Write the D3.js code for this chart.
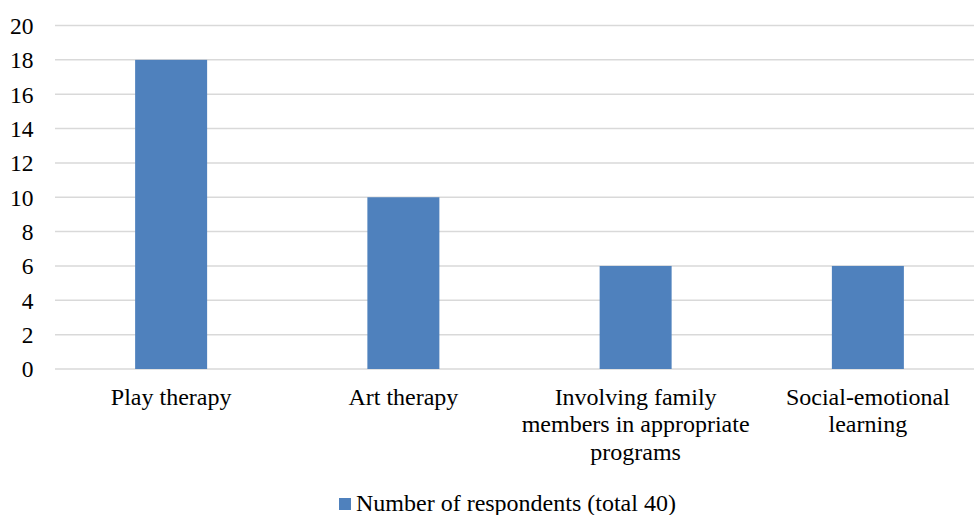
<!DOCTYPE html>
<html><head><meta charset="utf-8">
<script src="https://cdn.jsdelivr.net/npm/d3@7"></script>
<style>body{margin:0;background:#fff}svg{display:block}</style>
</head><body>
<script>
const categories = [["Play therapy"],["Art therapy"],["Involving family","members in appropriate","programs"],["Social-emotional","learning"]];
const values = [18, 10, 6, 6];
const yTicks = [0,2,4,6,8,10,12,14,16,18,20];
const seriesName = "Number of respondents (total 40)";

const W = 974, H = 515;
const svg = d3.select("body").append("svg").attr("width", W).attr("height", H);
const mLeft = 55, mRight = 984, mTop = 25.5, mBottom = 369;
const x = d3.scaleBand().domain(d3.range(categories.length)).range([mLeft, mRight]).paddingInner(0.69).paddingOuter(0.345);
const y = d3.scaleLinear().domain([0, 20]).range([mBottom, mTop]);
const font = "'Liberation Serif','Times New Roman',serif";

svg.append("g").selectAll("line").data(yTicks).join("line")
  .attr("x1", mLeft).attr("x2", mRight).attr("y1", d => y(d)).attr("y2", d => y(d))
  .attr("stroke", "#d9d9d9").attr("stroke-width", 1.5);

svg.append("g").selectAll("text").data(yTicks).join("text")
  .attr("x", 33.5).attr("y", d => y(d) + 8.3).attr("text-anchor", "end")
  .attr("font-family", font).attr("font-size", 23.5).attr("fill", "#000").text(d => d);

const bw = 72;
svg.append("g").selectAll("rect").data(values).join("rect")
  .attr("x", (d, i) => x(i) + x.bandwidth() / 2 - bw / 2).attr("width", bw)
  .attr("y", d => y(d)).attr("height", d => y(0) - y(d)).attr("fill", "#4f81bd");

const lbl = svg.append("g").selectAll("text").data(categories).join("text")
  .attr("text-anchor", "middle").attr("font-family", font).attr("font-size", 24).attr("fill", "#000");
lbl.each(function(lines, i) {
  d3.select(this).selectAll("tspan").data(lines).join("tspan")
    .attr("x", x(i) + x.bandwidth() / 2).attr("y", (d, j) => 405 + j * 27.3).text(d => d);
});

svg.append("rect").attr("x", 339).attr("y", 498).attr("width", 12).attr("height", 12).attr("fill", "#4f81bd");
svg.append("text").attr("x", 356).attr("y", 511).attr("font-family", font).attr("font-size", 24).attr("fill", "#000").text(seriesName);
</script>
</body></html>
